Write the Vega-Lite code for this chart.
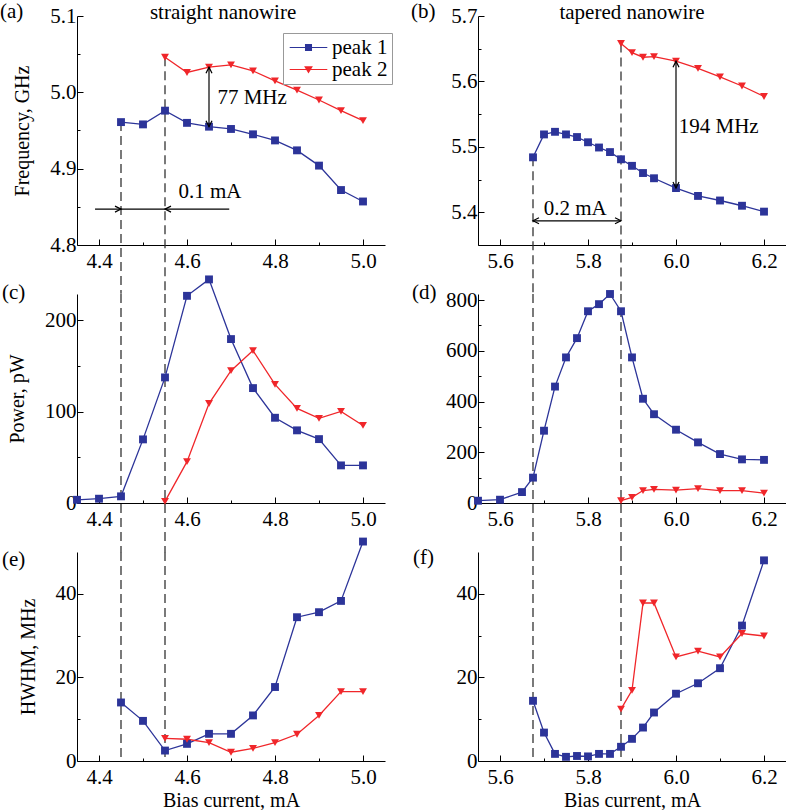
{
"$schema":"https://vega.github.io/schema/vega-lite/v6.json",
"background":"white",
"padding":0,
"bounds":"flush",
"columns":2,
"spacing":{"row":49,"column":93},
"resolve":{"scale":{"color":"independent","shape":"independent"}},
"config":{
 "view":{"stroke":null},
 "axis":{"grid":false,"labelFont":"Liberation Serif","labelFontSize":21,"labelColor":"black","titleFont":"Liberation Serif","titleFontSize":20,"titleFontWeight":"normal","titleColor":"black","domainColor":"black","domainWidth":1,"tickColor":"black","tickWidth":1,"labelOverlap":false,"labelFlush":false},
 "axisX":{"labelPadding":11,"titlePadding":0},
 "axisY":{"labelPadding":7,"titlePadding":17},
 "text":{"font":"Liberation Serif","fontSize":21,"color":"black"}
},
"datasets":{
 "a":[
  {"I":4.45,"v":4.961,"s":"peak 1"},{"I":4.50,"v":4.958,"s":"peak 1"},{"I":4.55,"v":4.976,"s":"peak 1"},{"I":4.60,"v":4.960,"s":"peak 1"},{"I":4.65,"v":4.955,"s":"peak 1"},{"I":4.70,"v":4.952,"s":"peak 1"},{"I":4.75,"v":4.945,"s":"peak 1"},{"I":4.80,"v":4.937,"s":"peak 1"},{"I":4.85,"v":4.924,"s":"peak 1"},{"I":4.90,"v":4.904,"s":"peak 1"},{"I":4.95,"v":4.872,"s":"peak 1"},{"I":5.00,"v":4.857,"s":"peak 1"},
  {"I":4.55,"v":5.046,"s":"peak 2"},{"I":4.60,"v":5.026,"s":"peak 2"},{"I":4.65,"v":5.033,"s":"peak 2"},{"I":4.70,"v":5.036,"s":"peak 2"},{"I":4.75,"v":5.028,"s":"peak 2"},{"I":4.80,"v":5.015,"s":"peak 2"},{"I":4.85,"v":5.003,"s":"peak 2"},{"I":4.90,"v":4.990,"s":"peak 2"},{"I":4.95,"v":4.976,"s":"peak 2"},{"I":5.00,"v":4.963,"s":"peak 2"}
 ],
 "b":[
  {"I":5.675,"v":5.484,"s":"peak 1"},{"I":5.7,"v":5.519,"s":"peak 1"},{"I":5.725,"v":5.523,"s":"peak 1"},{"I":5.75,"v":5.519,"s":"peak 1"},{"I":5.775,"v":5.515,"s":"peak 1"},{"I":5.8,"v":5.507,"s":"peak 1"},{"I":5.825,"v":5.499,"s":"peak 1"},{"I":5.85,"v":5.492,"s":"peak 1"},{"I":5.875,"v":5.481,"s":"peak 1"},{"I":5.9,"v":5.471,"s":"peak 1"},{"I":5.925,"v":5.460,"s":"peak 1"},{"I":5.95,"v":5.452,"s":"peak 1"},{"I":6.0,"v":5.437,"s":"peak 1"},{"I":6.05,"v":5.425,"s":"peak 1"},{"I":6.1,"v":5.418,"s":"peak 1"},{"I":6.15,"v":5.410,"s":"peak 1"},{"I":6.2,"v":5.401,"s":"peak 1"},
  {"I":5.875,"v":5.658,"s":"peak 2"},{"I":5.9,"v":5.644,"s":"peak 2"},{"I":5.925,"v":5.637,"s":"peak 2"},{"I":5.95,"v":5.638,"s":"peak 2"},{"I":6.0,"v":5.631,"s":"peak 2"},{"I":6.05,"v":5.620,"s":"peak 2"},{"I":6.1,"v":5.607,"s":"peak 2"},{"I":6.15,"v":5.593,"s":"peak 2"},{"I":6.2,"v":5.577,"s":"peak 2"}
 ],
 "c":[
  {"I":4.35,"v":3.5,"s":"peak 1"},{"I":4.40,"v":4.7,"s":"peak 1"},{"I":4.45,"v":7.3,"s":"peak 1"},{"I":4.50,"v":69.7,"s":"peak 1"},{"I":4.55,"v":137.6,"s":"peak 1"},{"I":4.60,"v":227,"s":"peak 1"},{"I":4.65,"v":245,"s":"peak 1"},{"I":4.70,"v":179.6,"s":"peak 1"},{"I":4.75,"v":125.9,"s":"peak 1"},{"I":4.80,"v":93.4,"s":"peak 1"},{"I":4.85,"v":79.6,"s":"peak 1"},{"I":4.90,"v":70,"s":"peak 1"},{"I":4.95,"v":41.2,"s":"peak 1"},{"I":5.00,"v":41.2,"s":"peak 1"},
  {"I":4.55,"v":1.8,"s":"peak 2"},{"I":4.60,"v":45.3,"s":"peak 2"},{"I":4.65,"v":109,"s":"peak 2"},{"I":4.70,"v":145,"s":"peak 2"},{"I":4.75,"v":167,"s":"peak 2"},{"I":4.80,"v":130,"s":"peak 2"},{"I":4.85,"v":103.6,"s":"peak 2"},{"I":4.90,"v":92.7,"s":"peak 2"},{"I":4.95,"v":100.4,"s":"peak 2"},{"I":5.00,"v":85,"s":"peak 2"}
 ],
 "d":[
  {"I":5.55,"v":9,"s":"peak 1"},{"I":5.6,"v":13,"s":"peak 1"},{"I":5.65,"v":43,"s":"peak 1"},{"I":5.675,"v":100,"s":"peak 1"},{"I":5.7,"v":285,"s":"peak 1"},{"I":5.725,"v":459,"s":"peak 1"},{"I":5.75,"v":574,"s":"peak 1"},{"I":5.775,"v":650,"s":"peak 1"},{"I":5.8,"v":756,"s":"peak 1"},{"I":5.825,"v":784,"s":"peak 1"},{"I":5.85,"v":824,"s":"peak 1"},{"I":5.875,"v":756,"s":"peak 1"},{"I":5.9,"v":574,"s":"peak 1"},{"I":5.925,"v":411,"s":"peak 1"},{"I":5.95,"v":350,"s":"peak 1"},{"I":6.0,"v":289,"s":"peak 1"},{"I":6.05,"v":239,"s":"peak 1"},{"I":6.1,"v":193,"s":"peak 1"},{"I":6.15,"v":172,"s":"peak 1"},{"I":6.2,"v":170,"s":"peak 1"},
  {"I":5.875,"v":9,"s":"peak 2"},{"I":5.9,"v":22,"s":"peak 2"},{"I":5.925,"v":49,"s":"peak 2"},{"I":5.95,"v":54,"s":"peak 2"},{"I":6.0,"v":51,"s":"peak 2"},{"I":6.05,"v":57,"s":"peak 2"},{"I":6.1,"v":49,"s":"peak 2"},{"I":6.15,"v":49,"s":"peak 2"},{"I":6.2,"v":39,"s":"peak 2"}
 ],
 "e":[
  {"I":4.45,"v":14.0,"s":"peak 1"},{"I":4.50,"v":9.6,"s":"peak 1"},{"I":4.55,"v":2.5,"s":"peak 1"},{"I":4.60,"v":4.1,"s":"peak 1"},{"I":4.65,"v":6.5,"s":"peak 1"},{"I":4.70,"v":6.5,"s":"peak 1"},{"I":4.75,"v":10.9,"s":"peak 1"},{"I":4.80,"v":17.7,"s":"peak 1"},{"I":4.85,"v":34.4,"s":"peak 1"},{"I":4.90,"v":35.6,"s":"peak 1"},{"I":4.95,"v":38.3,"s":"peak 1"},{"I":5.00,"v":52.5,"s":"peak 1"},
  {"I":4.55,"v":5.4,"s":"peak 2"},{"I":4.60,"v":5.2,"s":"peak 2"},{"I":4.65,"v":4.4,"s":"peak 2"},{"I":4.70,"v":2.1,"s":"peak 2"},{"I":4.75,"v":3.0,"s":"peak 2"},{"I":4.80,"v":4.4,"s":"peak 2"},{"I":4.85,"v":6.4,"s":"peak 2"},{"I":4.90,"v":10.9,"s":"peak 2"},{"I":4.95,"v":16.6,"s":"peak 2"},{"I":5.00,"v":16.6,"s":"peak 2"}
 ],
 "f":[
  {"I":5.675,"v":14.4,"s":"peak 1"},{"I":5.7,"v":6.8,"s":"peak 1"},{"I":5.725,"v":1.7,"s":"peak 1"},{"I":5.75,"v":1.0,"s":"peak 1"},{"I":5.775,"v":1.2,"s":"peak 1"},{"I":5.8,"v":1.1,"s":"peak 1"},{"I":5.825,"v":1.7,"s":"peak 1"},{"I":5.85,"v":1.7,"s":"peak 1"},{"I":5.875,"v":3.4,"s":"peak 1"},{"I":5.9,"v":5.3,"s":"peak 1"},{"I":5.925,"v":8.0,"s":"peak 1"},{"I":5.95,"v":11.6,"s":"peak 1"},{"I":6.0,"v":16.1,"s":"peak 1"},{"I":6.05,"v":18.6,"s":"peak 1"},{"I":6.1,"v":22.2,"s":"peak 1"},{"I":6.15,"v":32.4,"s":"peak 1"},{"I":6.2,"v":48.0,"s":"peak 1"},
  {"I":5.875,"v":12.4,"s":"peak 2"},{"I":5.9,"v":16.9,"s":"peak 2"},{"I":5.925,"v":37.8,"s":"peak 2"},{"I":5.95,"v":37.8,"s":"peak 2"},{"I":6.0,"v":24.9,"s":"peak 2"},{"I":6.05,"v":26.3,"s":"peak 2"},{"I":6.1,"v":24.9,"s":"peak 2"},{"I":6.15,"v":30.5,"s":"peak 2"},{"I":6.2,"v":29.9,"s":"peak 2"}
 ]
},
"concat":[
 {
  "width":308,"height":229,
  "encoding":{
   "x":{"field":"I","type":"quantitative","scale":{"domain":[4.35,5.05],"nice":false,"zero":false},"axis":{"title":null,"values":[4.4,4.5,4.6,4.7,4.8,4.9,5.0],"labelExpr":"abs(datum.value*5-round(datum.value*5))>0.01 ? '' : format(datum.value,'.1f')","tickSize":{"condition":{"test":"abs(datum.value*5-round(datum.value*5))>0.01","value":-3},"value":-6}}},
   "y":{"field":"v","type":"quantitative","scale":{"domain":[4.8,5.1],"nice":false,"zero":false},"axis":{"title":"Frequency, GHz","values":[4.8,4.85,4.9,4.95,5.0,5.05,5.1],"labelExpr":"abs(datum.value*10-round(datum.value*10))>0.01 ? '' : format(datum.value,'.1f')","tickSize":{"condition":{"test":"abs(datum.value*10-round(datum.value*10))>0.01","value":-3},"value":-6}}}
  },
  "layer":[
   {"data":{"values":[{"I":4.45,"v":4.961,"v2":4.736},{"I":4.55,"v":5.046,"v2":4.736}]},"mark":{"type":"rule","strokeDash":[9,5],"color":"#333","strokeWidth":1.3},"encoding":{"y2":{"field":"v2"}}},
   {"data":{"name":"a"},"mark":{"type":"line","strokeWidth":1.3},"encoding":{"stroke":{"field":"s","type":"nominal","scale":{"domain":["peak 1","peak 2"],"range":["#2c3499","#f0262a"]},"legend":null}}},
   {"data":{"name":"a"},"transform":[{"filter":"datum.s === 'peak 1'"}],"mark":{"type":"point","shape":"square","filled":true,"opacity":1,"size":62,"color":"#2c3499"}},
   {"data":{"name":"a"},"transform":[{"filter":"datum.s === 'peak 2'"}],"mark":{"type":"point","shape":"triangle-down","filled":true,"opacity":1,"size":62,"color":"#f0262a"}},
   {"data":{"values":[]},"mark":{"type":"point","filled":true,"opacity":1,"size":256},"encoding":{
     "color":{"field":"s","type":"nominal","scale":{"domain":["peak 1","peak 2"],"range":["#2c3499","#f0262a"]},"legend":{"title":null,"orient":"none","legendX":206,"legendY":17,"strokeColor":"#999","fillColor":"white","padding":4,"symbolSize":256,"symbolOffset":11,"labelOffset":13,"rowPadding":0,"symbolOpacity":1,"symbolStrokeWidth":0,"labelFont":"Liberation Serif","labelFontSize":21,"labelColor":"black"}},
     "shape":{"field":"s","type":"nominal","scale":{"domain":["peak 1","peak 2"],"range":["M-2.35,-0.07H2.35V0.07H-2.35ZM-0.44,-0.44H0.44V0.44H-0.44Z","M-2.35,-0.07H2.35V0.07H-2.35ZM-0.55,-0.42H0.55L0,0.5Z"]},"legend":{"title":null,"orient":"none","legendX":206,"legendY":17,"strokeColor":"#999","fillColor":"white","padding":4,"symbolSize":256,"symbolOffset":11,"labelOffset":13,"rowPadding":0,"symbolOpacity":1,"symbolStrokeWidth":0,"labelFont":"Liberation Serif","labelFontSize":21,"labelColor":"black"}}}},
   {"data":{"values":[{"I":4.65,"v":4.955,"v2":5.033}]},"mark":{"type":"rule","color":"black","strokeWidth":1.2},"encoding":{"y2":{"field":"v2"}}},
   {"data":{"values":[{"I":4.391,"I2":4.696,"v":4.847}]},"mark":{"type":"rule","color":"black","strokeWidth":1.2},"encoding":{"x2":{"field":"I2"}}},
   {"data":{"values":[{"I":4.65,"v":5.033}]},"mark":{"type":"point","shape":"M-0.5,1L0,0L0.5,1","filled":false,"color":"black","strokeWidth":1.2,"size":144,"opacity":1}},
   {"data":{"values":[{"I":4.65,"v":4.955}]},"mark":{"type":"point","shape":"M-0.5,-1L0,0L0.5,-1","filled":false,"color":"black","strokeWidth":1.2,"size":144,"opacity":1}},
   {"data":{"values":[{"I":4.45,"v":4.847}]},"mark":{"type":"point","shape":"M-1,-0.5L0,0L-1,0.5","filled":false,"color":"black","strokeWidth":1.2,"size":144,"opacity":1}},
   {"data":{"values":[{"I":4.55,"v":4.847}]},"mark":{"type":"point","shape":"M1,-0.5L0,0L1,0.5","filled":false,"color":"black","strokeWidth":1.2,"size":144,"opacity":1}},
   {"data":{"values":[{"I":4.748,"v":4.992,"t":"77 MHz"},{"I":4.652,"v":4.869,"t":"0.1 mA"}]},"mark":{"type":"text"},"encoding":{"text":{"field":"t"}}},
   {"data":{"values":[{"I":4.682,"v":5.1,"t":"straight nanowire"}]},"mark":{"type":"text","dy":-3},"encoding":{"text":{"field":"t"}}},
   {"data":{"values":[{"I":4.35,"v":5.1,"t":"(a)"}]},"mark":{"type":"text","align":"left","dx":-77,"dy":-4},"encoding":{"text":{"field":"t"}}}
  ]
 },
 {
  "width":308,"height":229,
  "resolve":{"scale":{"shape":"independent"}},
  "encoding":{
   "x":{"field":"I","type":"quantitative","scale":{"domain":[5.55,6.25],"nice":false,"zero":false},"axis":{"title":null,"values":[5.6,5.7,5.8,5.9,6.0,6.1,6.2],"labelExpr":"abs(datum.value*5-round(datum.value*5))>0.01 ? '' : format(datum.value,'.1f')","tickSize":{"condition":{"test":"abs(datum.value*5-round(datum.value*5))>0.01","value":-3},"value":-6}}},
   "y":{"field":"v","type":"quantitative","scale":{"domain":[5.35,5.7],"nice":false,"zero":false},"axis":{"title":null,"values":[5.35,5.4,5.45,5.5,5.55,5.6,5.65,5.7],"labelExpr":"abs(datum.value*10-round(datum.value*10))>0.01 ? '' : format(datum.value,'.1f')","tickSize":{"condition":{"test":"abs(datum.value*10-round(datum.value*10))>0.01","value":-3},"value":-6}}}
  },
  "layer":[
   {"data":{"values":[{"I":5.675,"v":5.484,"v2":5.275},{"I":5.875,"v":5.658,"v2":5.275}]},"mark":{"type":"rule","strokeDash":[9,5],"color":"#333","strokeWidth":1.3},"encoding":{"y2":{"field":"v2"}}},
   {"data":{"name":"b"},"mark":{"type":"line","strokeWidth":1.3},"encoding":{"stroke":{"field":"s","type":"nominal","scale":{"domain":["peak 1","peak 2"],"range":["#2c3499","#f0262a"]},"legend":null}}},
   {"data":{"name":"b"},"mark":{"type":"point","filled":true,"opacity":1,"size":62},"encoding":{"color":{"field":"s","type":"nominal","scale":{"domain":["peak 1","peak 2"],"range":["#2c3499","#f0262a"]},"legend":null},"shape":{"field":"s","type":"nominal","scale":{"domain":["peak 1","peak 2"],"range":["square","triangle-down"]},"legend":null}}},
   {"data":{"values":[{"I":6.0,"v":5.437,"v2":5.631}]},"mark":{"type":"rule","color":"black","strokeWidth":1.2},"encoding":{"y2":{"field":"v2"}}},
   {"data":{"values":[{"I":5.675,"I2":5.875,"v":5.387}]},"mark":{"type":"rule","color":"black","strokeWidth":1.2},"encoding":{"x2":{"field":"I2"}}},
   {"data":{"values":[{"I":6.0,"v":5.631,"dir":"up"},{"I":6.0,"v":5.437,"dir":"down"},{"I":5.675,"v":5.387,"dir":"left"},{"I":5.875,"v":5.387,"dir":"right"}]},"mark":{"type":"point","filled":false,"color":"black","strokeWidth":1.2,"size":144,"opacity":1},"encoding":{"shape":{"field":"dir","type":"nominal","scale":{"domain":["up","down","left","right"],"range":["M-0.5,1L0,0L0.5,1","M-0.5,-1L0,0L0.5,-1","M1,-0.5L0,0L1,0.5","M-1,-0.5L0,0L-1,0.5"]},"legend":null}}},
   {"data":{"values":[{"I":6.097,"v":5.531,"t":"194 MHz"},{"I":5.771,"v":5.405,"t":"0.2 mA"}]},"mark":{"type":"text"},"encoding":{"text":{"field":"t"}}},
   {"data":{"values":[{"I":5.9,"v":5.7,"t":"tapered nanowire"}]},"mark":{"type":"text","dy":-3},"encoding":{"text":{"field":"t"}}},
   {"data":{"values":[{"I":5.55,"v":5.7,"t":"(b)"}]},"mark":{"type":"text","align":"left","dx":-67,"dy":-4.5},"encoding":{"text":{"field":"t"}}}
  ]
 },
 {
  "width":308,"height":209,
  "encoding":{
   "x":{"field":"I","type":"quantitative","scale":{"domain":[4.35,5.05],"nice":false,"zero":false},"axis":{"title":null,"values":[4.4,4.5,4.6,4.7,4.8,4.9,5.0],"labelExpr":"abs(datum.value*5-round(datum.value*5))>0.01 ? '' : format(datum.value,'.1f')","tickSize":{"condition":{"test":"abs(datum.value*5-round(datum.value*5))>0.01","value":-3},"value":-6}}},
   "y":{"field":"v","type":"quantitative","scale":{"domain":[0,229],"nice":false,"zero":false},"axis":{"title":"Power, pW","values":[0,50,100,150,200],"labelExpr":"datum.value % 100 != 0 ? '' : format(datum.value,'d')","tickSize":{"condition":{"test":"datum.value % 100 != 0","value":-3},"value":-6}}}
  },
  "layer":[
   {"data":{"values":[{"I":4.45,"v":229,"v2":-54},{"I":4.55,"v":229,"v2":-54}]},"mark":{"type":"rule","strokeDash":[9,5],"color":"#333","strokeWidth":1.3},"encoding":{"y2":{"field":"v2"}}},
   {"data":{"name":"c"},"mark":{"type":"line","strokeWidth":1.3},"encoding":{"stroke":{"field":"s","type":"nominal","scale":{"domain":["peak 1","peak 2"],"range":["#2c3499","#f0262a"]},"legend":null}}},
   {"data":{"name":"c"},"mark":{"type":"point","filled":true,"opacity":1,"size":62},"encoding":{"color":{"field":"s","type":"nominal","scale":{"domain":["peak 1","peak 2"],"range":["#2c3499","#f0262a"]},"legend":null},"shape":{"field":"s","type":"nominal","scale":{"domain":["peak 1","peak 2"],"range":["square","triangle-down"]},"legend":null}}},
   {"data":{"values":[{"I":4.35,"v":229,"t":"(c)"}]},"mark":{"type":"text","align":"left","dx":-75,"dy":-1},"encoding":{"text":{"field":"t"}}}
  ]
 },
 {
  "width":308,"height":209,
  "encoding":{
   "x":{"field":"I","type":"quantitative","scale":{"domain":[5.55,6.25],"nice":false,"zero":false},"axis":{"title":null,"values":[5.6,5.7,5.8,5.9,6.0,6.1,6.2],"labelExpr":"abs(datum.value*5-round(datum.value*5))>0.01 ? '' : format(datum.value,'.1f')","tickSize":{"condition":{"test":"abs(datum.value*5-round(datum.value*5))>0.01","value":-3},"value":-6}}},
   "y":{"field":"v","type":"quantitative","scale":{"domain":[0,824],"nice":false,"zero":false},"axis":{"title":null,"values":[0,100,200,300,400,500,600,700,800],"labelExpr":"datum.value % 200 != 0 ? '' : format(datum.value,'d')","tickSize":{"condition":{"test":"datum.value % 200 != 0","value":-3},"value":-6}}}
  },
  "layer":[
   {"data":{"values":[{"I":5.675,"v":824,"v2":-193},{"I":5.875,"v":824,"v2":-193}]},"mark":{"type":"rule","strokeDash":[9,5],"color":"#333","strokeWidth":1.3},"encoding":{"y2":{"field":"v2"}}},
   {"data":{"name":"d"},"mark":{"type":"line","strokeWidth":1.3},"encoding":{"stroke":{"field":"s","type":"nominal","scale":{"domain":["peak 1","peak 2"],"range":["#2c3499","#f0262a"]},"legend":null}}},
   {"data":{"name":"d"},"mark":{"type":"point","filled":true,"opacity":1,"size":62},"encoding":{"color":{"field":"s","type":"nominal","scale":{"domain":["peak 1","peak 2"],"range":["#2c3499","#f0262a"]},"legend":null},"shape":{"field":"s","type":"nominal","scale":{"domain":["peak 1","peak 2"],"range":["square","triangle-down"]},"legend":null}}},
   {"data":{"values":[{"I":5.55,"v":824,"t":"(d)"}]},"mark":{"type":"text","align":"left","dx":-66,"dy":-1.5},"encoding":{"text":{"field":"t"}}}
  ]
 },
 {
  "width":308,"height":209,
  "encoding":{
   "x":{"field":"I","type":"quantitative","scale":{"domain":[4.35,5.05],"nice":false,"zero":false},"axis":{"title":"Bias current, mA","values":[4.4,4.5,4.6,4.7,4.8,4.9,5.0],"labelExpr":"abs(datum.value*5-round(datum.value*5))>0.01 ? '' : format(datum.value,'.1f')","tickSize":{"condition":{"test":"abs(datum.value*5-round(datum.value*5))>0.01","value":-3},"value":-6}}},
   "y":{"field":"v","type":"quantitative","scale":{"domain":[0,50],"nice":false,"zero":false},"axis":{"title":"HWHM, MHz","values":[0,10,20,30,40],"labelExpr":"datum.value % 20 != 0 ? '' : format(datum.value,'d')","tickSize":{"condition":{"test":"datum.value % 20 != 0","value":-3},"value":-6}}}
  },
  "layer":[
   {"data":{"values":[{"I":4.45,"v":50,"v2":0},{"I":4.55,"v":50,"v2":0}]},"mark":{"type":"rule","strokeDash":[9,5],"color":"#333","strokeWidth":1.3},"encoding":{"y2":{"field":"v2"}}},
   {"data":{"name":"e"},"mark":{"type":"line","strokeWidth":1.3},"encoding":{"stroke":{"field":"s","type":"nominal","scale":{"domain":["peak 1","peak 2"],"range":["#2c3499","#f0262a"]},"legend":null}}},
   {"data":{"name":"e"},"mark":{"type":"point","filled":true,"opacity":1,"size":62},"encoding":{"color":{"field":"s","type":"nominal","scale":{"domain":["peak 1","peak 2"],"range":["#2c3499","#f0262a"]},"legend":null},"shape":{"field":"s","type":"nominal","scale":{"domain":["peak 1","peak 2"],"range":["square","triangle-down"]},"legend":null}}},
   {"data":{"values":[{"I":4.35,"v":50,"t":"(e)"}]},"mark":{"type":"text","align":"left","dx":-75,"dy":8},"encoding":{"text":{"field":"t"}}}
  ]
 },
 {
  "width":308,"height":209,
  "encoding":{
   "x":{"field":"I","type":"quantitative","scale":{"domain":[5.55,6.25],"nice":false,"zero":false},"axis":{"title":"Bias current, mA","values":[5.6,5.7,5.8,5.9,6.0,6.1,6.2],"labelExpr":"abs(datum.value*5-round(datum.value*5))>0.01 ? '' : format(datum.value,'.1f')","tickSize":{"condition":{"test":"abs(datum.value*5-round(datum.value*5))>0.01","value":-3},"value":-6}}},
   "y":{"field":"v","type":"quantitative","scale":{"domain":[0,50],"nice":false,"zero":false},"axis":{"title":null,"values":[0,10,20,30,40],"labelExpr":"datum.value % 20 != 0 ? '' : format(datum.value,'d')","tickSize":{"condition":{"test":"datum.value % 20 != 0","value":-3},"value":-6}}}
  },
  "layer":[
   {"data":{"values":[{"I":5.675,"v":50,"v2":0},{"I":5.875,"v":50,"v2":0}]},"mark":{"type":"rule","strokeDash":[9,5],"color":"#333","strokeWidth":1.3},"encoding":{"y2":{"field":"v2"}}},
   {"data":{"name":"f"},"mark":{"type":"line","strokeWidth":1.3},"encoding":{"stroke":{"field":"s","type":"nominal","scale":{"domain":["peak 1","peak 2"],"range":["#2c3499","#f0262a"]},"legend":null}}},
   {"data":{"name":"f"},"mark":{"type":"point","filled":true,"opacity":1,"size":62},"encoding":{"color":{"field":"s","type":"nominal","scale":{"domain":["peak 1","peak 2"],"range":["#2c3499","#f0262a"]},"legend":null},"shape":{"field":"s","type":"nominal","scale":{"domain":["peak 1","peak 2"],"range":["square","triangle-down"]},"legend":null}}},
   {"data":{"values":[{"I":5.55,"v":50,"t":"(f)"}]},"mark":{"type":"text","align":"left","dx":-65,"dy":6},"encoding":{"text":{"field":"t"}}}
  ]
 }
]
}
